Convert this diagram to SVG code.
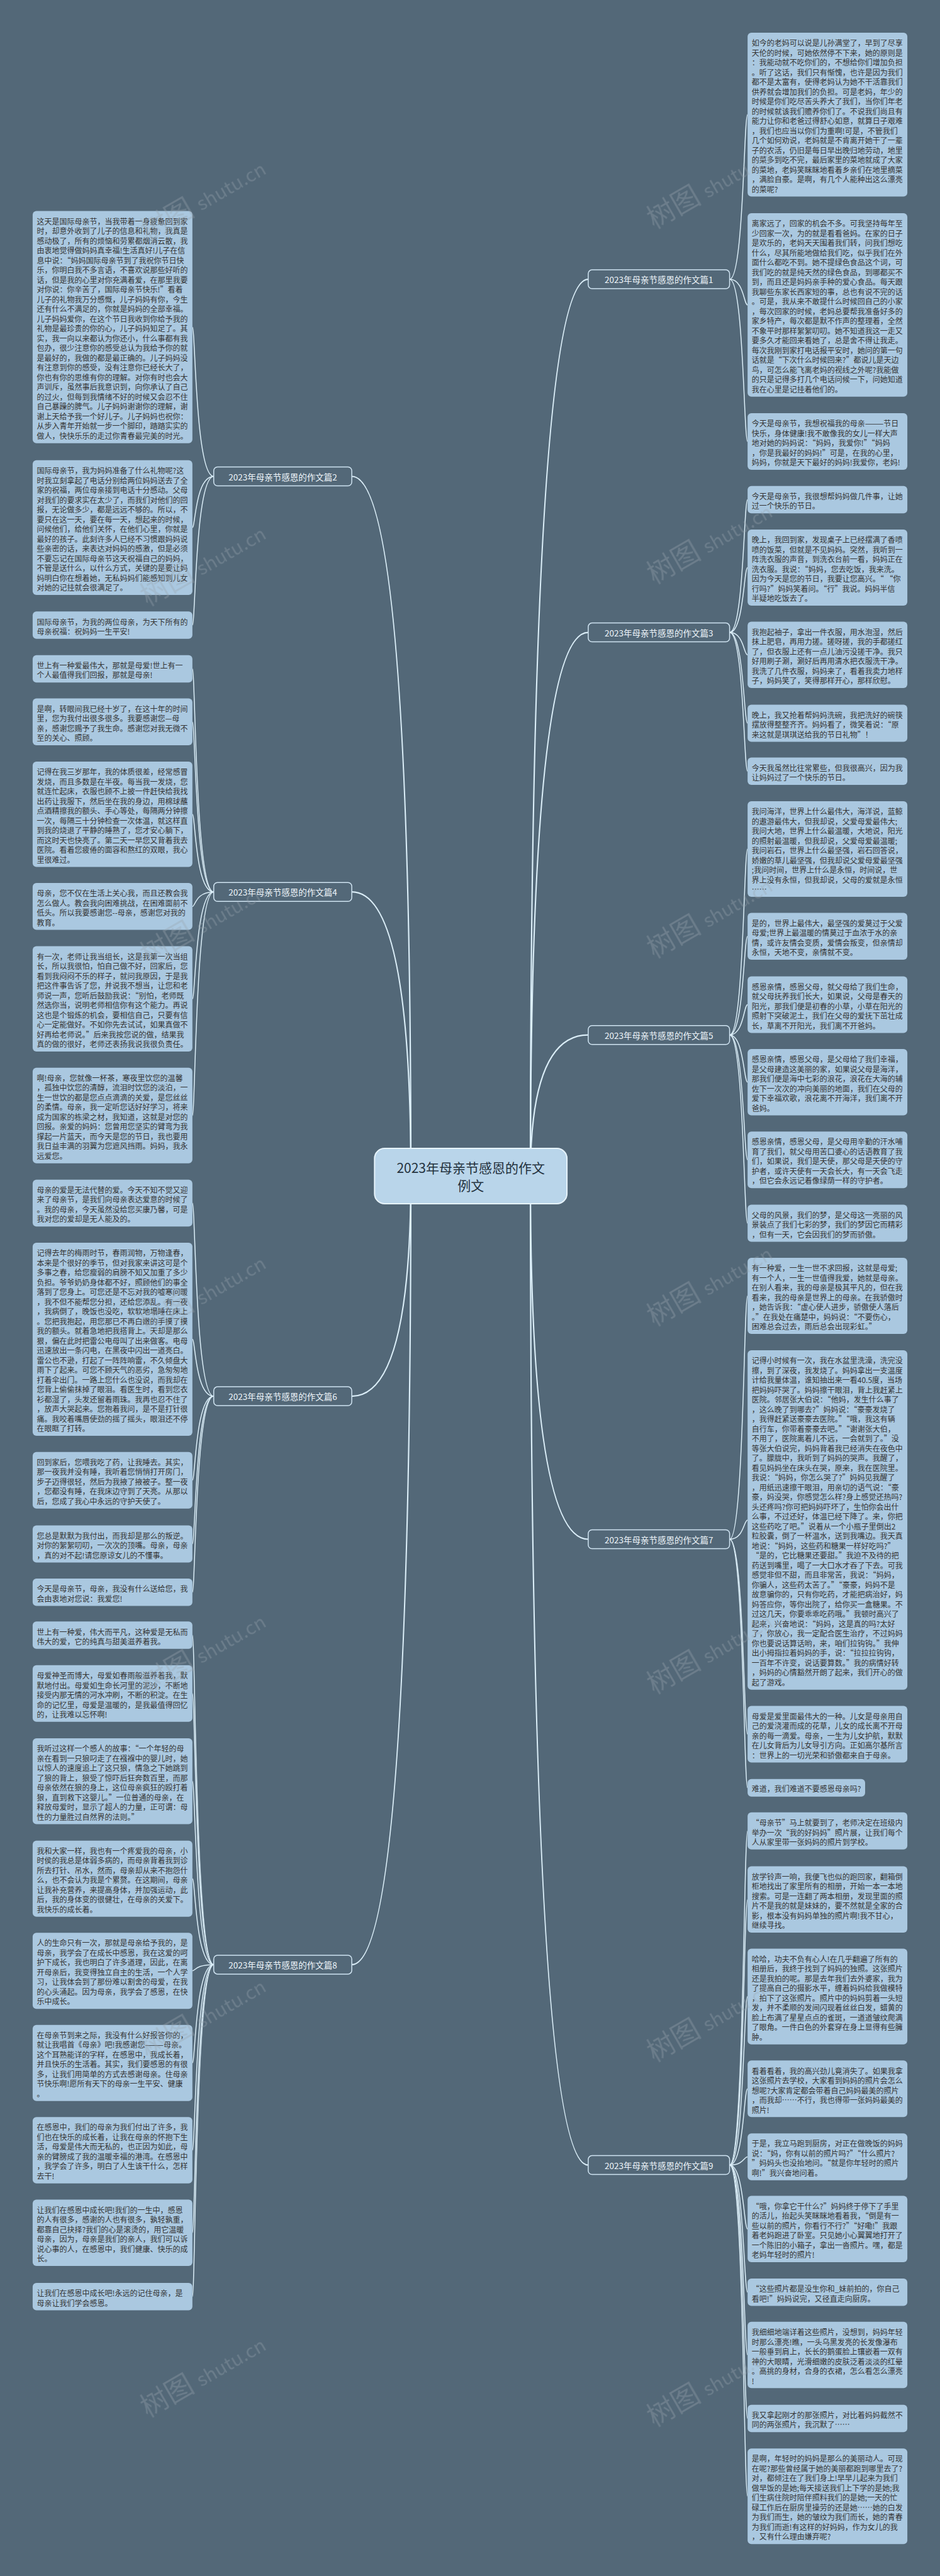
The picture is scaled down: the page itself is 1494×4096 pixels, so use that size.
<svg xmlns="http://www.w3.org/2000/svg" width="1494" height="4096" viewBox="0 0 1494 4096">
<style>
.bg{fill:#536878}
.leaf rect{fill:#aac8e0}
.leaf text{font-family:"Noto Sans CJK SC","Noto Sans",sans-serif;font-size:12px;fill:#333;dominant-baseline:central}
.conn path{fill:none;stroke:#dbeef8;stroke-width:1.5}
.conn path.main{stroke-width:2.2}
.branch rect{fill:#536878;stroke:#d0e4f2;stroke-width:1.5}
.branch text{font-family:"Noto Sans CJK SC","Noto Sans",sans-serif;font-size:13.5px;fill:#eef5fa;text-anchor:middle;dominant-baseline:central}
.root rect{fill:#b9d5ea;stroke:#e6f3fb;stroke-width:2}
.root text{font-family:"Noto Sans CJK SC","Noto Sans",sans-serif;font-size:21px;fill:#24323e;text-anchor:middle;dominant-baseline:central}
.wm{font-family:"Noto Sans CJK SC","Liberation Serif",serif;fill:#9aa6b0;opacity:0.35}
</style>
<rect class="bg" x="0" y="0" width="1494" height="4096"/>
<g id="connectors" class="conn">
<path class="main" d="M653 1870 Q653 757.5 559.1 757.5"/>
<path class="main" d="M653 1870 Q653 1418.2 559.1 1418.2"/>
<path class="main" d="M653 1870 Q653 2220.1 559.1 2220.1"/>
<path class="main" d="M653 1870 Q653 3123.9 559.1 3123.9"/>
<path class="main" d="M843 1870 Q843 444.1 934.9 444.1"/>
<path class="main" d="M843 1870 Q843 1005.6 934.9 1005.6"/>
<path class="main" d="M843 1870 Q843 1645.7 934.9 1645.7"/>
<path class="main" d="M843 1870 Q843 2447.5 934.9 2447.5"/>
<path class="main" d="M843 1870 Q843 3442.6 934.9 3442.6"/>
<path d="M339.7 757.5 C310.5 757.5 310.5 520.2 305.8 520.2"/>
<path d="M339.7 757.5 C310.5 757.5 310.5 838.9 305.8 838.9"/>
<path d="M339.7 757.5 C310.5 757.5 310.5 994.1 305.8 994.1"/>
<path d="M339.7 1418.2 C310.5 1418.2 310.5 1063.5 305.8 1063.5"/>
<path d="M339.7 1418.2 C310.5 1418.2 310.5 1147.9 305.8 1147.9"/>
<path d="M339.7 1418.2 C310.5 1418.2 310.5 1294.8 305.8 1294.8"/>
<path d="M339.7 1418.2 C310.5 1418.2 310.5 1441.4 305.8 1441.4"/>
<path d="M339.7 1418.2 C310.5 1418.2 310.5 1588.3 305.8 1588.3"/>
<path d="M339.7 1418.2 C310.5 1418.2 310.5 1773.7 305.8 1773.7"/>
<path d="M339.7 2220.1 C310.5 2220.1 310.5 1913.0 305.8 1913.0"/>
<path d="M339.7 2220.1 C310.5 2220.1 310.5 2129.6 305.8 2129.6"/>
<path d="M339.7 2220.1 C310.5 2220.1 310.5 2353.7 305.8 2353.7"/>
<path d="M339.7 2220.1 C310.5 2220.1 310.5 2454.9 305.8 2454.9"/>
<path d="M339.7 2220.1 C310.5 2220.1 310.5 2531.8 305.8 2531.8"/>
<path d="M339.7 3123.9 C310.5 3123.9 310.5 2600.1 305.8 2600.1"/>
<path d="M339.7 3123.9 C310.5 3123.9 310.5 2692.8 305.8 2692.8"/>
<path d="M339.7 3123.9 C310.5 3123.9 310.5 2832.2 305.8 2832.2"/>
<path d="M339.7 3123.9 C310.5 3123.9 310.5 2987.2 305.8 2987.2"/>
<path d="M339.7 3123.9 C310.5 3123.9 310.5 3133.7 305.8 3133.7"/>
<path d="M339.7 3123.9 C310.5 3123.9 310.5 3280.2 305.8 3280.2"/>
<path d="M339.7 3123.9 C310.5 3123.9 310.5 3419.0 305.8 3419.0"/>
<path d="M339.7 3123.9 C310.5 3123.9 310.5 3550.3 305.8 3550.3"/>
<path d="M339.7 3123.9 C310.5 3123.9 310.5 3651.8 305.8 3651.8"/>
<path d="M1159.6 444.1 C1182.1 444.1 1182.1 182.2 1188.2 182.2"/>
<path d="M1159.6 444.1 C1182.1 444.1 1182.1 484.9 1188.2 484.9"/>
<path d="M1159.6 444.1 C1182.1 444.1 1182.1 702.1 1188.2 702.1"/>
<path d="M1159.6 1005.6 C1182.1 1005.6 1182.1 794.5 1188.2 794.5"/>
<path d="M1159.6 1005.6 C1182.1 1005.6 1182.1 902.6 1188.2 902.6"/>
<path d="M1159.6 1005.6 C1182.1 1005.6 1182.1 1041.4 1188.2 1041.4"/>
<path d="M1159.6 1005.6 C1182.1 1005.6 1182.1 1150.0 1188.2 1150.0"/>
<path d="M1159.6 1005.6 C1182.1 1005.6 1182.1 1226.3 1188.2 1226.3"/>
<path d="M1159.6 1645.7 C1182.1 1645.7 1182.1 1350.0 1188.2 1350.0"/>
<path d="M1159.6 1645.7 C1182.1 1645.7 1182.1 1488.7 1188.2 1488.7"/>
<path d="M1159.6 1645.7 C1182.1 1645.7 1182.1 1597.4 1188.2 1597.4"/>
<path d="M1159.6 1645.7 C1182.1 1645.7 1182.1 1720.7 1188.2 1720.7"/>
<path d="M1159.6 1645.7 C1182.1 1645.7 1182.1 1844.2 1188.2 1844.2"/>
<path d="M1159.6 1645.7 C1182.1 1645.7 1182.1 1944.9 1188.2 1944.9"/>
<path d="M1159.6 2447.5 C1182.1 2447.5 1182.1 2060.5 1188.2 2060.5"/>
<path d="M1159.6 2447.5 C1182.1 2447.5 1182.1 2416.9 1188.2 2416.9"/>
<path d="M1159.6 2447.5 C1182.1 2447.5 1182.1 2757.5 1188.2 2757.5"/>
<path d="M1159.6 2447.5 C1182.1 2447.5 1182.1 2842.7 1188.2 2842.7"/>
<path d="M1159.6 3442.6 C1182.1 3442.6 1182.1 2911.3 1188.2 2911.3"/>
<path d="M1159.6 3442.6 C1182.1 3442.6 1182.1 3020.4 1188.2 3020.4"/>
<path d="M1159.6 3442.6 C1182.1 3442.6 1182.1 3174.6 1188.2 3174.6"/>
<path d="M1159.6 3442.6 C1182.1 3442.6 1182.1 3321.3 1188.2 3321.3"/>
<path d="M1159.6 3442.6 C1182.1 3442.6 1182.1 3429.5 1188.2 3429.5"/>
<path d="M1159.6 3442.6 C1182.1 3442.6 1182.1 3544.4 1188.2 3544.4"/>
<path d="M1159.6 3442.6 C1182.1 3442.6 1182.1 3644.8 1188.2 3644.8"/>
<path d="M1159.6 3442.6 C1182.1 3442.6 1182.1 3744.6 1188.2 3744.6"/>
<path d="M1159.6 3442.6 C1182.1 3442.6 1182.1 3845.5 1188.2 3845.5"/>
<path d="M1159.6 3442.6 C1182.1 3442.6 1182.1 3969.2 1188.2 3969.2"/>
</g>
<g id="root" class="root"><rect x="595.3" y="1826" width="305.8" height="88" rx="16"/><text x="748.2" y="1856">2023年母亲节感恩的作文</text><text x="748.2" y="1884">例文</text></g>
<g id="b2" class="branch"><rect x="339.7" y="742.5" width="219.4" height="30" rx="6"/><text x="449.4" y="757.5">2023年母亲节感恩的作文篇2</text></g>
<g id="b4" class="branch"><rect x="339.7" y="1403.2" width="219.4" height="30" rx="6"/><text x="449.4" y="1418.2">2023年母亲节感恩的作文篇4</text></g>
<g id="b6" class="branch"><rect x="339.7" y="2205.1" width="219.4" height="30" rx="6"/><text x="449.4" y="2220.1">2023年母亲节感恩的作文篇6</text></g>
<g id="b8" class="branch"><rect x="339.7" y="3108.9" width="219.4" height="30" rx="6"/><text x="449.4" y="3123.9">2023年母亲节感恩的作文篇8</text></g>
<g id="b1" class="branch"><rect x="934.9" y="429.1" width="224.7" height="30" rx="6"/><text x="1047.2" y="444.1">2023年母亲节感恩的作文篇1</text></g>
<g id="b3" class="branch"><rect x="934.9" y="990.6" width="224.7" height="30" rx="6"/><text x="1047.2" y="1005.6">2023年母亲节感恩的作文篇3</text></g>
<g id="b5" class="branch"><rect x="934.9" y="1630.7" width="224.7" height="30" rx="6"/><text x="1047.2" y="1645.7">2023年母亲节感恩的作文篇5</text></g>
<g id="b7" class="branch"><rect x="934.9" y="2432.5" width="224.7" height="30" rx="6"/><text x="1047.2" y="2447.5">2023年母亲节感恩的作文篇7</text></g>
<g id="b9" class="branch"><rect x="934.9" y="3427.6" width="224.7" height="30" rx="6"/><text x="1047.2" y="3442.6">2023年母亲节感恩的作文篇9</text></g>

<g id="L1" class="leaf"><rect x="51.9" y="335.6" width="253.9" height="369.1" rx="6"/><text x="58.5" y="350.8"><tspan x="58.5" dy="0">这天是国际母亲节，当我带着一身疲惫回到家</tspan><tspan x="58.5" dy="15.5">时，却意外收到了儿子的信息和礼物，我真是</tspan><tspan x="58.5" dy="15.5">感动极了，所有的烦恼和劳累都烟消云散，我</tspan><tspan x="58.5" dy="15.5">由衷地觉得做妈妈真幸福!生活真好!儿子在信</tspan><tspan x="58.5" dy="15.5">息中说：“妈妈国际母亲节到了我祝你节日快</tspan><tspan x="58.5" dy="15.5">乐，你明白我不多言语，不喜欢说那些好听的</tspan><tspan x="58.5" dy="15.5">话，但是我的心里对你充满着爱，在那里我要</tspan><tspan x="58.5" dy="15.5">对你说：你辛苦了，国际母亲节快乐!”看着</tspan><tspan x="58.5" dy="15.5">儿子的礼物我万分感慨，儿子妈妈有你，今生</tspan><tspan x="58.5" dy="15.5">还有什么不满足的，你就是妈妈的全部幸福。</tspan><tspan x="58.5" dy="15.5">儿子妈妈爱你，在这个节日我收到你给予我的</tspan><tspan x="58.5" dy="15.5">礼物是最珍贵的你的心，儿子妈妈知足了。其</tspan><tspan x="58.5" dy="15.5">实，我一向以来都认为你还小，什么事都有我</tspan><tspan x="58.5" dy="15.5">包办，很少注意你的感受总认为我给予你的就</tspan><tspan x="58.5" dy="15.5">是最好的，我做的都是最正确的。儿子妈妈没</tspan><tspan x="58.5" dy="15.5">有注意到你的感受，没有注意你已经长大了，</tspan><tspan x="58.5" dy="15.5">你也有你的思维有你的理解。对你有时也会大</tspan><tspan x="58.5" dy="15.5">声训斥，虽然事后我意识到，向你承认了自己</tspan><tspan x="58.5" dy="15.5">的过火，但每到我情绪不好的时候又会忍不住</tspan><tspan x="58.5" dy="15.5">自己暴躁的脾气。儿子妈妈谢谢你的理解，谢</tspan><tspan x="58.5" dy="15.5">谢上天给予我一个好儿子。儿子妈妈也祝你：</tspan><tspan x="58.5" dy="15.5">从步入青年开始就一步一个脚印，踏踏实实的</tspan><tspan x="58.5" dy="15.5">做人，快快乐乐的走过你青春最完美的时光。</tspan></text></g>
<g id="L2" class="leaf"><rect x="51.9" y="731.8" width="253.9" height="214.1" rx="6"/><text x="58.5" y="747.0"><tspan x="58.5" dy="0">国际母亲节，我为妈妈准备了什么礼物呢?这</tspan><tspan x="58.5" dy="15.5">时我立刻拿起了电话分别给两位妈妈送去了全</tspan><tspan x="58.5" dy="15.5">家的祝福，两位母亲接到电话十分感动。父母</tspan><tspan x="58.5" dy="15.5">对我们的要求实在太少了，而我们对他们的回</tspan><tspan x="58.5" dy="15.5">报，无论做多少，都是远远不够的。所以，不</tspan><tspan x="58.5" dy="15.5">要只在这一天，要在每一天，想起来的时候，</tspan><tspan x="58.5" dy="15.5">问候他们，给他们关怀，在他们心里，你就是</tspan><tspan x="58.5" dy="15.5">最好的孩子。此刻许多人已经不习惯跟妈妈说</tspan><tspan x="58.5" dy="15.5">些亲密的话，来表达对妈妈的感激，但是必须</tspan><tspan x="58.5" dy="15.5">不要忘记在国际母亲节这天祝福自己的妈妈，</tspan><tspan x="58.5" dy="15.5">不管是送什么，以什么方式，关键的是要让妈</tspan><tspan x="58.5" dy="15.5">妈明白你在想着她，无私妈妈们能感知到儿女</tspan><tspan x="58.5" dy="15.5">对她的记挂就会很满足了。</tspan></text></g>
<g id="L3" class="leaf"><rect x="51.9" y="972.3" width="253.9" height="43.5" rx="6"/><text x="58.5" y="987.5"><tspan x="58.5" dy="0">国际母亲节，为我的两位母亲，为天下所有的</tspan><tspan x="58.5" dy="15.5">母亲祝福：祝妈妈一生平安!</tspan></text></g>
<g id="L4" class="leaf"><rect x="51.9" y="1041.7" width="253.9" height="43.5" rx="6"/><text x="58.5" y="1056.9"><tspan x="58.5" dy="0">世上有一种爱最伟大，那就是母爱!世上有一</tspan><tspan x="58.5" dy="15.5">个人最值得我们回报，那就是母亲!</tspan></text></g>
<g id="L5" class="leaf"><rect x="51.9" y="1110.6" width="253.9" height="74.5" rx="6"/><text x="58.5" y="1125.8"><tspan x="58.5" dy="0">是啊，转眼间我已经十岁了，在这十年的时间</tspan><tspan x="58.5" dy="15.5">里，您为我付出很多很多。我要感谢您—母</tspan><tspan x="58.5" dy="15.5">亲，感谢您赐予了我生命。感谢您对我无微不</tspan><tspan x="58.5" dy="15.5">至的关心、照顾。</tspan></text></g>
<g id="L6" class="leaf"><rect x="51.9" y="1211.0" width="253.9" height="167.6" rx="6"/><text x="58.5" y="1226.2"><tspan x="58.5" dy="0">记得在我三岁那年，我的体质很差，经常感冒</tspan><tspan x="58.5" dy="15.5">发烧，而且多数是在半夜。每当我一发烧，您</tspan><tspan x="58.5" dy="15.5">就连忙起床，衣服也顾不上披一件赶快给我找</tspan><tspan x="58.5" dy="15.5">出药让我服下，然后坐在我的身边，用棉球蘸</tspan><tspan x="58.5" dy="15.5">点酒精擦我的额头、手心等处，每隔两分钟擦</tspan><tspan x="58.5" dy="15.5">一次，每隔三十分钟检查一次体温，就这样直</tspan><tspan x="58.5" dy="15.5">到我的烧退了平静的睡熟了，您才安心躺下，</tspan><tspan x="58.5" dy="15.5">而这时天也快亮了。第二天一早您又背着我去</tspan><tspan x="58.5" dy="15.5">医院。看着您疲倦的面容和熬红的双眼，我心</tspan><tspan x="58.5" dy="15.5">里很难过。</tspan></text></g>
<g id="L7" class="leaf"><rect x="51.9" y="1404.1" width="253.9" height="74.5" rx="6"/><text x="58.5" y="1419.3"><tspan x="58.5" dy="0">母亲，您不仅在生活上关心我，而且还教会我</tspan><tspan x="58.5" dy="15.5">怎么做人。教会我向困难挑战，在困难面前不</tspan><tspan x="58.5" dy="15.5">低头。所以我要感谢您--母亲，感谢您对我的</tspan><tspan x="58.5" dy="15.5">教育。</tspan></text></g>
<g id="L8" class="leaf"><rect x="51.9" y="1504.5" width="253.9" height="167.6" rx="6"/><text x="58.5" y="1519.7"><tspan x="58.5" dy="0">有一次，老师让我当组长，这是我第一次当组</tspan><tspan x="58.5" dy="15.5">长，所以我很怕，怕自己做不好，回家后，您</tspan><tspan x="58.5" dy="15.5">看到我闷闷不乐的样子，就问我原因，于是我</tspan><tspan x="58.5" dy="15.5">把这件事告诉了您，并说我不想当，让您和老</tspan><tspan x="58.5" dy="15.5">师说一声，您听后鼓励我说：“别怕，老师既</tspan><tspan x="58.5" dy="15.5">然选你当，说明老师相信你有这个能力。再说</tspan><tspan x="58.5" dy="15.5">这也是个锻炼的机会，要相信自己，只要有信</tspan><tspan x="58.5" dy="15.5">心一定能做好。不如你先去试试，如果真做不</tspan><tspan x="58.5" dy="15.5">好再给老师说。”后来我按您说的做，结果我</tspan><tspan x="58.5" dy="15.5">真的做的很好，老师还表扬我说我很负责任。</tspan></text></g>
<g id="L9" class="leaf"><rect x="51.9" y="1697.7" width="253.9" height="152.1" rx="6"/><text x="58.5" y="1712.9"><tspan x="58.5" dy="0">啊!母亲，您就像一杯茶，寒夜里饮您的温馨</tspan><tspan x="58.5" dy="15.5">，孤独中饮您的清醇，流泪时饮您的淡泊，一</tspan><tspan x="58.5" dy="15.5">生一世饮的都是您点点滴滴的关爱，是您丝丝</tspan><tspan x="58.5" dy="15.5">的柔情。母亲，我一定听您话好好学习，将来</tspan><tspan x="58.5" dy="15.5">成为国家的栋梁之材，我知道，这就是对您的</tspan><tspan x="58.5" dy="15.5">回报。亲爱的妈妈：您曾用您坚实的臂弯为我</tspan><tspan x="58.5" dy="15.5">撑起一片蓝天，而今天是您的节日，我也要用</tspan><tspan x="58.5" dy="15.5">我日益丰满的羽翼为您遮风挡雨。妈妈，我永</tspan><tspan x="58.5" dy="15.5">远爱您。</tspan></text></g>
<g id="L10" class="leaf"><rect x="51.9" y="1875.7" width="253.9" height="74.5" rx="6"/><text x="58.5" y="1890.9"><tspan x="58.5" dy="0">母亲的爱是无法代替的爱。今天不知不觉又迎</tspan><tspan x="58.5" dy="15.5">来了母亲节，是我们向母亲表达爱意的时候了</tspan><tspan x="58.5" dy="15.5">。我的母亲，今天虽然没给您买康乃馨，可是</tspan><tspan x="58.5" dy="15.5">我对您的爱却是无人能及的。</tspan></text></g>
<g id="L11" class="leaf"><rect x="51.9" y="1976.0" width="253.9" height="307.1" rx="6"/><text x="58.5" y="1991.2"><tspan x="58.5" dy="0">记得去年的梅雨时节，春雨润物，万物逢春，</tspan><tspan x="58.5" dy="15.5">本来是个很好的季节，但对我家来讲这可是个</tspan><tspan x="58.5" dy="15.5">多事之春，给您瘦弱的肩膀不知又加重了多少</tspan><tspan x="58.5" dy="15.5">负担。爷爷奶奶身体都不好，照顾他们的事全</tspan><tspan x="58.5" dy="15.5">落到了您身上。可您还是不忘对我的嘘寒问暖</tspan><tspan x="58.5" dy="15.5">，我不但不能帮您分担，还给您添乱。有一夜</tspan><tspan x="58.5" dy="15.5">，我病倒了，晚饭也没吃，软软地塌睡在床上</tspan><tspan x="58.5" dy="15.5">。您把我抱起，用您那已不再白嫩的手摸了摸</tspan><tspan x="58.5" dy="15.5">我的额头。就着急地把我搭背上。天却是那么</tspan><tspan x="58.5" dy="15.5">狠，偏在此时把雷公电母叫了出来做客。电母</tspan><tspan x="58.5" dy="15.5">迅速放出一条闪电，在黑夜中闪出一道亮白。</tspan><tspan x="58.5" dy="15.5">雷公也不逊，打起了一阵阵响雷，不久倾盘大</tspan><tspan x="58.5" dy="15.5">雨下了起来。可您不顾天气的恶劣，急匆匆地</tspan><tspan x="58.5" dy="15.5">打着伞出门。一路上您什么也没说，而我却在</tspan><tspan x="58.5" dy="15.5">您背上偷偷抹掉了眼泪。看医生时，看到您衣</tspan><tspan x="58.5" dy="15.5">衫都湿了，头发还留着雨珠。我再也忍不住了</tspan><tspan x="58.5" dy="15.5">，放声大哭起来。您抱着我问，是不是打针很</tspan><tspan x="58.5" dy="15.5">痛。我咬着嘴唇使劲的摇了摇头，眼泪还不停</tspan><tspan x="58.5" dy="15.5">在眼眶了打转。</tspan></text></g>
<g id="L12" class="leaf"><rect x="51.9" y="2308.7" width="253.9" height="90.0" rx="6"/><text x="58.5" y="2323.9"><tspan x="58.5" dy="0">回到家后，您喂我吃了药，让我睡去。其实，</tspan><tspan x="58.5" dy="15.5">那一夜我并没有睡，我听着您悄悄打开房门，</tspan><tspan x="58.5" dy="15.5">步子迈得很轻，然后为我掖了掖被子。整一夜</tspan><tspan x="58.5" dy="15.5">，您都没有睡，在我床边守到了天亮。从那以</tspan><tspan x="58.5" dy="15.5">后，您成了我心中永远的守护天使了。</tspan></text></g>
<g id="L13" class="leaf"><rect x="51.9" y="2425.4" width="253.9" height="59.0" rx="6"/><text x="58.5" y="2440.6"><tspan x="58.5" dy="0">您总是默默为我付出，而我却是那么的叛逆。</tspan><tspan x="58.5" dy="15.5">对你的絮絮叨叨，一次次的顶嘴。母亲，母亲</tspan><tspan x="58.5" dy="15.5">，真的对不起!请您原谅女儿的不懂事。</tspan></text></g>
<g id="L14" class="leaf"><rect x="51.9" y="2510.0" width="253.9" height="43.5" rx="6"/><text x="58.5" y="2525.2"><tspan x="58.5" dy="0">今天是母亲节，母亲，我没有什么送给您，我</tspan><tspan x="58.5" dy="15.5">会由衷地对您说：我爱您!</tspan></text></g>
<g id="L15" class="leaf"><rect x="51.9" y="2578.3" width="253.9" height="43.5" rx="6"/><text x="58.5" y="2593.5"><tspan x="58.5" dy="0">世上有一种爱，伟大而平凡，这种爱是无私而</tspan><tspan x="58.5" dy="15.5">伟大的爱，它的纯真与甜美滋养着我。</tspan></text></g>
<g id="L16" class="leaf"><rect x="51.9" y="2647.8" width="253.9" height="90.0" rx="6"/><text x="58.5" y="2663.0"><tspan x="58.5" dy="0">母爱神圣而博大，母爱如春雨般滋养着我，默</tspan><tspan x="58.5" dy="15.5">默地付出。母爱如生命长河里的泥沙，不断地</tspan><tspan x="58.5" dy="15.5">接受内那无情的河水冲刷，不断的积淀。在生</tspan><tspan x="58.5" dy="15.5">命的记忆里，母爱是温暖的，是我最值得回忆</tspan><tspan x="58.5" dy="15.5">的，让我难以忘怀啊!</tspan></text></g>
<g id="L17" class="leaf"><rect x="51.9" y="2763.9" width="253.9" height="136.5" rx="6"/><text x="58.5" y="2779.1"><tspan x="58.5" dy="0">我听过这样一个感人的故事：“一个年轻的母</tspan><tspan x="58.5" dy="15.5">亲在看到一只狼叼走了在襁褓中的婴儿时，她</tspan><tspan x="58.5" dy="15.5">以惊人的速度追上了这只狼，情急之下她跳到</tspan><tspan x="58.5" dy="15.5">了狼的背上，狼受了惊吓后狂奔数百里，而那</tspan><tspan x="58.5" dy="15.5">母亲依然在狼的身上，这位母亲疯狂的殴打着</tspan><tspan x="58.5" dy="15.5">狼，直到救下这婴儿。”一位普通的母亲，在</tspan><tspan x="58.5" dy="15.5">释放母爱时，显示了超人的力量，正可谓：母</tspan><tspan x="58.5" dy="15.5">性的力量胜过自然界的法则。”</tspan></text></g>
<g id="L18" class="leaf"><rect x="51.9" y="2926.7" width="253.9" height="121.0" rx="6"/><text x="58.5" y="2941.9"><tspan x="58.5" dy="0">我和大家一样，我也有一个疼爱我的母亲，小</tspan><tspan x="58.5" dy="15.5">时侯的我总是体弱多病的，而母亲背着我到诊</tspan><tspan x="58.5" dy="15.5">所去打针、吊水，然而，母亲却从来不抱怨什</tspan><tspan x="58.5" dy="15.5">么，也不会认为我是个累赘。在这期间，母亲</tspan><tspan x="58.5" dy="15.5">让我补充营养，来提高身体，并加强运动，此</tspan><tspan x="58.5" dy="15.5">后，我的身体变的很健壮，在母亲的关爱下。</tspan><tspan x="58.5" dy="15.5">我快乐的成长着。</tspan></text></g>
<g id="L19" class="leaf"><rect x="51.9" y="3073.2" width="253.9" height="121.0" rx="6"/><text x="58.5" y="3088.4"><tspan x="58.5" dy="0">人的生命只有一次，那就是母亲给予我的，是</tspan><tspan x="58.5" dy="15.5">母亲，我学会了在成长中感恩，我在这爱的呵</tspan><tspan x="58.5" dy="15.5">护下成长，我也明白了许多道理，因此，在离</tspan><tspan x="58.5" dy="15.5">开母亲后，我变得独立自主的生活，一个人学</tspan><tspan x="58.5" dy="15.5">习，让我体会到了那份难以割舍的母爱，在我</tspan><tspan x="58.5" dy="15.5">的心头涌起。因为母亲，我学会了感恩，在快</tspan><tspan x="58.5" dy="15.5">乐中成长。</tspan></text></g>
<g id="L20" class="leaf"><rect x="51.9" y="3219.7" width="253.9" height="121.0" rx="6"/><text x="58.5" y="3234.9"><tspan x="58.5" dy="0">在母亲节到来之际，我没有什么好报答你的，</tspan><tspan x="58.5" dy="15.5">就让我唱首《母亲》吧!我感谢您———母亲。</tspan><tspan x="58.5" dy="15.5">这个耳熟能详的字样，在感恩中，我成长着，</tspan><tspan x="58.5" dy="15.5">并且快乐的生活着。其实，我们要感恩的有很</tspan><tspan x="58.5" dy="15.5">多，让我们用简单的方式去感谢母亲。住母亲</tspan><tspan x="58.5" dy="15.5">节快乐啊!愿所有天下的母亲一生平安、健康</tspan><tspan x="58.5" dy="15.5">。</tspan></text></g>
<g id="L21" class="leaf"><rect x="51.9" y="3366.2" width="253.9" height="105.5" rx="6"/><text x="58.5" y="3381.4"><tspan x="58.5" dy="0">在感恩中，我们的母亲为我们付出了许多，我</tspan><tspan x="58.5" dy="15.5">们也在快乐的成长着，让我在母亲的怀抱下生</tspan><tspan x="58.5" dy="15.5">活，母爱是伟大而无私的，也正因为如此，母</tspan><tspan x="58.5" dy="15.5">亲的臂膀成了我的温暖幸福的港湾。在感恩中</tspan><tspan x="58.5" dy="15.5">，我学会了许多，明白了人生该干什么，怎样</tspan><tspan x="58.5" dy="15.5">去干!</tspan></text></g>
<g id="L22" class="leaf"><rect x="51.9" y="3497.5" width="253.9" height="105.5" rx="6"/><text x="58.5" y="3512.7"><tspan x="58.5" dy="0">让我们在感恩中成长吧!我们的一生中，感恩</tspan><tspan x="58.5" dy="15.5">的人有很多，感谢的人也有很多，孰轻孰重，</tspan><tspan x="58.5" dy="15.5">都靠自己抉择?我们的心是滚烫的，用它温暖</tspan><tspan x="58.5" dy="15.5">母亲，因为，母亲是我们的亲人，我们可以诉</tspan><tspan x="58.5" dy="15.5">说心事的人，在感恩中，我们健康、快乐的成</tspan><tspan x="58.5" dy="15.5">长。</tspan></text></g>
<g id="L23" class="leaf"><rect x="51.9" y="3630.0" width="253.9" height="43.5" rx="6"/><text x="58.5" y="3645.2"><tspan x="58.5" dy="0">让我们在感恩中成长吧!永远的记住母亲，是</tspan><tspan x="58.5" dy="15.5">母亲让我们学会感恩。</tspan></text></g>

<g id="R1" class="leaf"><rect x="1188.2" y="51.9" width="253.9" height="260.6" rx="6"/><text x="1194.8" y="67.1"><tspan x="1194.8" dy="0">如今的老妈可以说是儿孙满堂了，早到了尽享</tspan><tspan x="1194.8" dy="15.5">天伦的时候，可她依然停不下来，她的原则是</tspan><tspan x="1194.8" dy="15.5">：我能动就不吃你们的，不想给你们增加负担</tspan><tspan x="1194.8" dy="15.5">。听了这话，我们只有惭愧，也许是因为我们</tspan><tspan x="1194.8" dy="15.5">都不是太富有，使得老妈认为她不干活靠我们</tspan><tspan x="1194.8" dy="15.5">供养就会增加我们的负担。可是老妈，年少的</tspan><tspan x="1194.8" dy="15.5">时候是你们吃尽苦头养大了我们，当你们年老</tspan><tspan x="1194.8" dy="15.5">的时候就该我们赡养你们了。不说我们尚且有</tspan><tspan x="1194.8" dy="15.5">能力让你和老爸过得舒心如意，就算日子艰难</tspan><tspan x="1194.8" dy="15.5">，我们也应当以你们为重啊!可是，不管我们</tspan><tspan x="1194.8" dy="15.5">几个如何劝说，老妈就是不肯离开她干了一辈</tspan><tspan x="1194.8" dy="15.5">子的农活，仍旧是每日早出晚归地劳动，地里</tspan><tspan x="1194.8" dy="15.5">的菜多到吃不完，最后家里的菜地就成了大家</tspan><tspan x="1194.8" dy="15.5">的菜地，老妈笑眯眯地看着乡亲们在地里摘菜</tspan><tspan x="1194.8" dy="15.5">，满脸自豪。是啊，有几个人能种出这么漂亮</tspan><tspan x="1194.8" dy="15.5">的菜呢?</tspan></text></g>
<g id="R2" class="leaf"><rect x="1188.2" y="339.1" width="253.9" height="291.6" rx="6"/><text x="1194.8" y="354.3"><tspan x="1194.8" dy="0">离家远了，回家的机会不多。可我坚持每年至</tspan><tspan x="1194.8" dy="15.5">少回家一次，为的就是看看爸妈。在家的日子</tspan><tspan x="1194.8" dy="15.5">是欢乐的，老妈天天围着我们转，问我们想吃</tspan><tspan x="1194.8" dy="15.5">什么，尽其所能地做给我们吃，似乎我们在外</tspan><tspan x="1194.8" dy="15.5">面什么都吃不到。她不提绿色食品这个词，可</tspan><tspan x="1194.8" dy="15.5">我们吃的就是纯天然的绿色食品，到哪都买不</tspan><tspan x="1194.8" dy="15.5">到，而且还是妈妈亲手种的爱心食品。每天跟</tspan><tspan x="1194.8" dy="15.5">我聊些东家长西家短的事，总也有说不完的话</tspan><tspan x="1194.8" dy="15.5">。可是，我从来不敢提什么时候回自己的小家</tspan><tspan x="1194.8" dy="15.5">，每次回家的时候，老妈总要帮我准备好多的</tspan><tspan x="1194.8" dy="15.5">家乡特产，每次都是默不作声的整理着，全然</tspan><tspan x="1194.8" dy="15.5">不象平时那样絮絮叨叨。她不知道我这一走又</tspan><tspan x="1194.8" dy="15.5">要多久才能回来看她了，总是舍不得让我走。</tspan><tspan x="1194.8" dy="15.5">每次我刚到家打电话报平安时，她问的第一句</tspan><tspan x="1194.8" dy="15.5">话就是“下次什么时候回来?”都说儿是天边</tspan><tspan x="1194.8" dy="15.5">鸟，可怎么能飞离老妈的视线之外呢?我能做</tspan><tspan x="1194.8" dy="15.5">的只是记得多打几个电话问候一下，问她知道</tspan><tspan x="1194.8" dy="15.5">我在心里是记挂着他们的。</tspan></text></g>
<g id="R3" class="leaf"><rect x="1188.2" y="657.1" width="253.9" height="90.0" rx="6"/><text x="1194.8" y="672.3"><tspan x="1194.8" dy="0">今天是母亲节，我想祝福我的母亲———节日</tspan><tspan x="1194.8" dy="15.5">快乐，身体健康!我不敢像我的女儿一样大声</tspan><tspan x="1194.8" dy="15.5">地对她的妈妈说：“妈妈，我爱你!”“妈妈</tspan><tspan x="1194.8" dy="15.5">，你是我最好的妈妈!”可是，在我的心里，</tspan><tspan x="1194.8" dy="15.5">妈妈，你就是天下最好的妈妈!我爱你，老妈!</tspan></text></g>
<g id="R4" class="leaf"><rect x="1188.2" y="772.7" width="253.9" height="43.5" rx="6"/><text x="1194.8" y="787.9"><tspan x="1194.8" dy="0">今天是母亲节，我很想帮妈妈做几件事，让她</tspan><tspan x="1194.8" dy="15.5">过一个快乐的节日。</tspan></text></g>
<g id="R5" class="leaf"><rect x="1188.2" y="842.1" width="253.9" height="121.0" rx="6"/><text x="1194.8" y="857.3"><tspan x="1194.8" dy="0">晚上，我回到家，发现桌子上已经摆满了香喷</tspan><tspan x="1194.8" dy="15.5">喷的饭菜，但就是不见妈妈。突然，我听到一</tspan><tspan x="1194.8" dy="15.5">阵洗衣服的声音，到洗衣台前一看，妈妈正在</tspan><tspan x="1194.8" dy="15.5">洗衣服。我说：“妈妈，您去吃饭，我来洗。</tspan><tspan x="1194.8" dy="15.5">因为今天是您的节日，我要让您高兴。“ “你</tspan><tspan x="1194.8" dy="15.5">行吗?”妈妈笑着问。“行”我说。妈妈半信</tspan><tspan x="1194.8" dy="15.5">半疑地吃饭去了。</tspan></text></g>
<g id="R6" class="leaf"><rect x="1188.2" y="988.6" width="253.9" height="105.5" rx="6"/><text x="1194.8" y="1003.8"><tspan x="1194.8" dy="0">我抱起袖子，拿出一件衣服，用水泡湿，然后</tspan><tspan x="1194.8" dy="15.5">抹上肥皂，再用力搓。搓呀搓，我的手都搓红</tspan><tspan x="1194.8" dy="15.5">了，但衣服上还有一点儿油污没搓干净。我只</tspan><tspan x="1194.8" dy="15.5">好用刷子涮，涮好后再用清水把衣服洗干净。</tspan><tspan x="1194.8" dy="15.5">我洗了几件衣服，妈妈来了，看着我卖力地样</tspan><tspan x="1194.8" dy="15.5">子，妈妈笑了，笑得那样开心，那样欣慰。</tspan></text></g>
<g id="R7" class="leaf"><rect x="1188.2" y="1120.5" width="253.9" height="59.0" rx="6"/><text x="1194.8" y="1135.7"><tspan x="1194.8" dy="0">晚上，我又抢着帮妈妈洗碗，我把洗好的碗筷</tspan><tspan x="1194.8" dy="15.5">摆放得整整齐齐。妈妈看了，微笑着说：“原</tspan><tspan x="1194.8" dy="15.5">来这就是琪琪送给我的节日礼物”！</tspan></text></g>
<g id="R8" class="leaf"><rect x="1188.2" y="1204.5" width="253.9" height="43.5" rx="6"/><text x="1194.8" y="1219.7"><tspan x="1194.8" dy="0">今天我虽然比往常累些，但我很高兴，因为我</tspan><tspan x="1194.8" dy="15.5">让妈妈过了一个快乐的节日。</tspan></text></g>
<g id="R9" class="leaf"><rect x="1188.2" y="1274.0" width="253.9" height="152.1" rx="6"/><text x="1194.8" y="1289.2"><tspan x="1194.8" dy="0">我问海洋，世界上什么最伟大，海洋说，蓝鲸</tspan><tspan x="1194.8" dy="15.5">的遨游最伟大，但我却说，父爱母爱最伟大;</tspan><tspan x="1194.8" dy="15.5">我问大地，世界上什么最温暖，大地说，阳光</tspan><tspan x="1194.8" dy="15.5">的照射最温暖，但我却说，父爱母爱最温暖;</tspan><tspan x="1194.8" dy="15.5">我问岩石，世界上什么最坚强，岩石回答说，</tspan><tspan x="1194.8" dy="15.5">娇嫩的草儿最坚强，但我却说父爱母爱最坚强</tspan><tspan x="1194.8" dy="15.5">;我问时间，世界上什么是永恒，时间说，世</tspan><tspan x="1194.8" dy="15.5">界上没有永恒，但我却说，父母的爱就是永恒</tspan><tspan x="1194.8" dy="15.5">……</tspan></text></g>
<g id="R10" class="leaf"><rect x="1188.2" y="1451.4" width="253.9" height="74.5" rx="6"/><text x="1194.8" y="1466.6"><tspan x="1194.8" dy="0">是的，世界上最伟大，最坚强的爱莫过于父爱</tspan><tspan x="1194.8" dy="15.5">母爱;世界上最温暖的情莫过于血浓于水的亲</tspan><tspan x="1194.8" dy="15.5">情，或许友情会变质，爱情会叛变，但亲情却</tspan><tspan x="1194.8" dy="15.5">永恒，天地不变，亲情就不变。</tspan></text></g>
<g id="R11" class="leaf"><rect x="1188.2" y="1552.4" width="253.9" height="90.0" rx="6"/><text x="1194.8" y="1567.6"><tspan x="1194.8" dy="0">感恩亲情，感恩父母，就父母给了我们生命，</tspan><tspan x="1194.8" dy="15.5">就父母抚养我们长大，如果说，父母是春天的</tspan><tspan x="1194.8" dy="15.5">阳光，那我们便是初春的小草，小草在阳光的</tspan><tspan x="1194.8" dy="15.5">照射下突破泥土，我们在父母的爱抚下茁壮成</tspan><tspan x="1194.8" dy="15.5">长，草离不开阳光，我们离不开爸妈。</tspan></text></g>
<g id="R12" class="leaf"><rect x="1188.2" y="1667.9" width="253.9" height="105.5" rx="6"/><text x="1194.8" y="1683.1"><tspan x="1194.8" dy="0">感恩亲情，感恩父母，是父母给了我们幸福，</tspan><tspan x="1194.8" dy="15.5">是父母建造这美丽的家，如果说父母是海洋，</tspan><tspan x="1194.8" dy="15.5">那我们便是海中七彩的浪花，浪花在大海的辅</tspan><tspan x="1194.8" dy="15.5">佐下一次次的冲向美丽的地面，我们在父母的</tspan><tspan x="1194.8" dy="15.5">爱下幸福欢歌，浪花离不开海洋，我们离不开</tspan><tspan x="1194.8" dy="15.5">爸妈。</tspan></text></g>
<g id="R13" class="leaf"><rect x="1188.2" y="1799.2" width="253.9" height="90.0" rx="6"/><text x="1194.8" y="1814.4"><tspan x="1194.8" dy="0">感恩亲情，感恩父母，是父母用辛勤的汗水哺</tspan><tspan x="1194.8" dy="15.5">育了我们，就父母用苦口婆心的话语教育了我</tspan><tspan x="1194.8" dy="15.5">们，如果说，我们是天使，那父母是天使的守</tspan><tspan x="1194.8" dy="15.5">护者，或许天使有一天会长大，有一天会飞走</tspan><tspan x="1194.8" dy="15.5">，但它会永远记着像绿荫一样的守护者。</tspan></text></g>
<g id="R14" class="leaf"><rect x="1188.2" y="1915.4" width="253.9" height="59.0" rx="6"/><text x="1194.8" y="1930.6"><tspan x="1194.8" dy="0">父母的风景，我们的梦，是父母这一亮丽的风</tspan><tspan x="1194.8" dy="15.5">景装点了我们七彩的梦，我们的梦因它而精彩</tspan><tspan x="1194.8" dy="15.5">，但有一天，它会因我们的梦而骄傲。</tspan></text></g>
<g id="R15" class="leaf"><rect x="1188.2" y="2000.0" width="253.9" height="121.0" rx="6"/><text x="1194.8" y="2015.2"><tspan x="1194.8" dy="0">有一种爱，一生一世不求回报，这就是母爱;</tspan><tspan x="1194.8" dy="15.5">有一个人，一生一世值得我爱，她就是母亲。</tspan><tspan x="1194.8" dy="15.5">在别人看来，我的母亲是极其平凡的，但在我</tspan><tspan x="1194.8" dy="15.5">看来，我的母亲是世界上的母亲。在我骄傲时</tspan><tspan x="1194.8" dy="15.5">，她告诉我：“虚心使人进步，骄傲使人落后</tspan><tspan x="1194.8" dy="15.5">。”在我处在痛楚中，妈妈说：“不要伤心，</tspan><tspan x="1194.8" dy="15.5">困难总会过去，雨后总会出现彩虹。”</tspan></text></g>
<g id="R16" class="leaf"><rect x="1188.2" y="2147.0" width="253.9" height="539.7" rx="6"/><text x="1194.8" y="2162.2"><tspan x="1194.8" dy="0">记得小时候有一次，我在水盆里洗澡，洗完没</tspan><tspan x="1194.8" dy="15.5">擦，到了深夜，我发烧了。妈妈拿出一支温度</tspan><tspan x="1194.8" dy="15.5">计给我量体温，谁知抽出来一看40.5度，当场</tspan><tspan x="1194.8" dy="15.5">把妈妈吓哭了。妈妈擦干眼泪，背上我赶紧上</tspan><tspan x="1194.8" dy="15.5">医院。邻居张大伯说：“他妈，发生什么事了</tspan><tspan x="1194.8" dy="15.5">，这么晚了到哪去?”妈妈说：“豪豪发烧了</tspan><tspan x="1194.8" dy="15.5">，我得赶紧送豪豪去医院。”“哦，我这有辆</tspan><tspan x="1194.8" dy="15.5">自行车，你带着豪豪去吧。”“谢谢张大伯，</tspan><tspan x="1194.8" dy="15.5">不用了，医院离着儿不远，一会就到了。”没</tspan><tspan x="1194.8" dy="15.5">等张大伯说完，妈妈背着我已经消失在夜色中</tspan><tspan x="1194.8" dy="15.5">了。朦胧中，我听到了妈妈的哭声。我醒了，</tspan><tspan x="1194.8" dy="15.5">看见妈妈坐在床头在哭，原来，我在医院里。</tspan><tspan x="1194.8" dy="15.5">我说：“妈妈，你怎么哭了?”妈妈见我醒了</tspan><tspan x="1194.8" dy="15.5">，用纸迅速擦干眼泪，用亲切的语气说：“豪</tspan><tspan x="1194.8" dy="15.5">豪，妈没哭，你感觉怎么样?身上感觉还热吗?</tspan><tspan x="1194.8" dy="15.5">头还疼吗?你可把妈妈吓坏了，生怕你会出什</tspan><tspan x="1194.8" dy="15.5">么事，不过还好，体温已经下降了。来，你把</tspan><tspan x="1194.8" dy="15.5">这些药吃了吧。”说着从一个小瓶子里倒出2</tspan><tspan x="1194.8" dy="15.5">粒胶囊，倒了一杯温水，送到我嘴边。我天真</tspan><tspan x="1194.8" dy="15.5">地说：“妈妈，这些药和糖果一样好吃吗?”</tspan><tspan x="1194.8" dy="15.5">“是的，它比糖果还要甜。”我迫不及待的把</tspan><tspan x="1194.8" dy="15.5">药送到嘴里，喝了一大口水才吞了下去。可我</tspan><tspan x="1194.8" dy="15.5">感觉非但不甜，而且非常苦，我说：“妈妈，</tspan><tspan x="1194.8" dy="15.5">你骗人，这些药太苦了。”“豪豪，妈妈不是</tspan><tspan x="1194.8" dy="15.5">故意骗你的，只有你吃药，才能把病治好，妈</tspan><tspan x="1194.8" dy="15.5">妈答应你，等你出院了，给你买一盒糖果。不</tspan><tspan x="1194.8" dy="15.5">过这几天，你要乖乖吃药哦。”我顿时高兴了</tspan><tspan x="1194.8" dy="15.5">起来，兴奋地说：“妈妈，这是真的吗?太好</tspan><tspan x="1194.8" dy="15.5">了，你放心，我一定配合医生治疗，不过妈妈</tspan><tspan x="1194.8" dy="15.5">你也要说话算话哟，来，咱们拉钩钩。”我伸</tspan><tspan x="1194.8" dy="15.5">出小拇指拉着妈妈的手，说：“拉拉拉钩钩，</tspan><tspan x="1194.8" dy="15.5">一百年不许变，说话要算数。”我的病情好转</tspan><tspan x="1194.8" dy="15.5">，妈妈的心情豁然开朗了起来，我们开心的做</tspan><tspan x="1194.8" dy="15.5">起了游戏。</tspan></text></g>
<g id="R17" class="leaf"><rect x="1188.2" y="2712.5" width="253.9" height="90.0" rx="6"/><text x="1194.8" y="2727.7"><tspan x="1194.8" dy="0">母爱是爱里面最伟大的一种。儿女是母亲用自</tspan><tspan x="1194.8" dy="15.5">己的爱浇灌而成的花草，儿女的成长离不开母</tspan><tspan x="1194.8" dy="15.5">亲的每一滴爱。母亲，一生为儿女护航，默默</tspan><tspan x="1194.8" dy="15.5">在儿女背后为儿女导引方向。正如高尔基所言</tspan><tspan x="1194.8" dy="15.5">：世界上的一切光荣和骄傲都来自于母亲。</tspan></text></g>
<g id="R18" class="leaf"><rect x="1188.2" y="2828.7" width="186.8" height="28.0" rx="6"/><text x="1194.8" y="2842.7"><tspan x="1194.8" dy="0">难道，我们难道不要感恩母亲吗?</tspan></text></g>
<g id="R19" class="leaf"><rect x="1188.2" y="2881.8" width="253.9" height="59.0" rx="6"/><text x="1194.8" y="2897.0"><tspan x="1194.8" dy="0">“母亲节”马上就要到了，老师决定在班级内</tspan><tspan x="1194.8" dy="15.5">举办一次“我的好妈妈”照片展，让我们每个</tspan><tspan x="1194.8" dy="15.5">人从家里带一张妈妈的照片到学校。</tspan></text></g>
<g id="R20" class="leaf"><rect x="1188.2" y="2967.6" width="253.9" height="105.5" rx="6"/><text x="1194.8" y="2982.8"><tspan x="1194.8" dy="0">放学铃声一响，我便飞也似的跑回家，翻箱倒</tspan><tspan x="1194.8" dy="15.5">柜地找出了家里所有的相册，开始一本一本地</tspan><tspan x="1194.8" dy="15.5">搜索。可是一连翻了两本相册，发现里面的照</tspan><tspan x="1194.8" dy="15.5">片不是我的就是妹妹的，要不然就是全家的合</tspan><tspan x="1194.8" dy="15.5">影，根本没有妈妈单独的照片啊!我不甘心，</tspan><tspan x="1194.8" dy="15.5">继续寻找。</tspan></text></g>
<g id="R21" class="leaf"><rect x="1188.2" y="3098.6" width="253.9" height="152.1" rx="6"/><text x="1194.8" y="3113.8"><tspan x="1194.8" dy="0">哈哈，功夫不负有心人!在几乎翻遍了所有的</tspan><tspan x="1194.8" dy="15.5">相册后，我终于找到了妈妈的独照。这张照片</tspan><tspan x="1194.8" dy="15.5">还是我拍的呢。那是去年我们去外婆家，我为</tspan><tspan x="1194.8" dy="15.5">了提高自己的摄影水平，缠着妈妈给我做模特</tspan><tspan x="1194.8" dy="15.5">，拍下了这张照片。照片中的妈妈剪着一头短</tspan><tspan x="1194.8" dy="15.5">发，并不柔顺的发间闪现着丝丝白发，蜡黄的</tspan><tspan x="1194.8" dy="15.5">脸上布满了星星点点的雀斑，一道道皱纹爬满</tspan><tspan x="1194.8" dy="15.5">了眼角。一件白色的外套穿在身上显得有些臃</tspan><tspan x="1194.8" dy="15.5">肿。</tspan></text></g>
<g id="R22" class="leaf"><rect x="1188.2" y="3276.3" width="253.9" height="90.0" rx="6"/><text x="1194.8" y="3291.5"><tspan x="1194.8" dy="0">看着看着，我的高兴劲儿竟消失了。如果我拿</tspan><tspan x="1194.8" dy="15.5">这张照片去学校，大家看到妈妈的照片会怎么</tspan><tspan x="1194.8" dy="15.5">想呢?大家肯定都会带着自己妈妈最美的照片</tspan><tspan x="1194.8" dy="15.5">，而我却……不行，我也得带一张妈妈最美的</tspan><tspan x="1194.8" dy="15.5">照片!</tspan></text></g>
<g id="R23" class="leaf"><rect x="1188.2" y="3392.2" width="253.9" height="74.5" rx="6"/><text x="1194.8" y="3407.4"><tspan x="1194.8" dy="0">于是，我立马跑到厨房，对正在做晚饭的妈妈</tspan><tspan x="1194.8" dy="15.5">说：“妈，你有以前的照片吗?”“什么照片?</tspan><tspan x="1194.8" dy="15.5">”妈妈头也没抬地问。“就是你年轻时的照片</tspan><tspan x="1194.8" dy="15.5">啊!”我兴奋地问着。</tspan></text></g>
<g id="R24" class="leaf"><rect x="1188.2" y="3491.6" width="253.9" height="105.5" rx="6"/><text x="1194.8" y="3506.8"><tspan x="1194.8" dy="0">“哦，你拿它干什么?”妈妈终于停下了手里</tspan><tspan x="1194.8" dy="15.5">的活儿，抬起头笑眯眯地看着我，“倒是有一</tspan><tspan x="1194.8" dy="15.5">些以前的照片，你看行不行?”“好嘞!”我跟</tspan><tspan x="1194.8" dy="15.5">着老妈跑进了卧室。只见她小心翼翼地打开了</tspan><tspan x="1194.8" dy="15.5">一个陈旧的小箱子，拿出一沓照片。嘿，都是</tspan><tspan x="1194.8" dy="15.5">老妈年轻时的照片!</tspan></text></g>
<g id="R25" class="leaf"><rect x="1188.2" y="3623.0" width="253.9" height="43.5" rx="6"/><text x="1194.8" y="3638.2"><tspan x="1194.8" dy="0">“这些照片都是没生你和_妹前拍的，你自己</tspan><tspan x="1194.8" dy="15.5">看吧!”妈妈说完，又径直走向厨房。</tspan></text></g>
<g id="R26" class="leaf"><rect x="1188.2" y="3691.8" width="253.9" height="105.5" rx="6"/><text x="1194.8" y="3707.0"><tspan x="1194.8" dy="0">我细细地端详着这些照片，没想到，妈妈年轻</tspan><tspan x="1194.8" dy="15.5">时那么漂亮!瞧，一头乌黑发亮的长发像瀑布</tspan><tspan x="1194.8" dy="15.5">一般垂到肩上，长长的鹅蛋脸上镶嵌着一双有</tspan><tspan x="1194.8" dy="15.5">神的大眼睛，光滑细嫩的皮肤泛着淡淡的红晕</tspan><tspan x="1194.8" dy="15.5">。高挑的身材，合身的衣裙，怎么看怎么漂亮</tspan><tspan x="1194.8" dy="15.5">!</tspan></text></g>
<g id="R27" class="leaf"><rect x="1188.2" y="3823.7" width="253.9" height="43.5" rx="6"/><text x="1194.8" y="3838.9"><tspan x="1194.8" dy="0">我又拿起刚才的那张照片，对比着妈妈截然不</tspan><tspan x="1194.8" dy="15.5">同的两张照片，我沉默了……</tspan></text></g>
<g id="R28" class="leaf"><rect x="1188.2" y="3893.2" width="253.9" height="152.1" rx="6"/><text x="1194.8" y="3908.4"><tspan x="1194.8" dy="0">是啊，年轻时的妈妈是那么的美丽动人。可现</tspan><tspan x="1194.8" dy="15.5">在呢?那些曾经属于她的美丽都跑到哪里去了?</tspan><tspan x="1194.8" dy="15.5">对，都倾注在了我们身上!早早儿起来为我们</tspan><tspan x="1194.8" dy="15.5">做早饭的是她;每天接送我们上下学的是她;我</tspan><tspan x="1194.8" dy="15.5">们生病住院时陪伴照料我们的是她;一天的忙</tspan><tspan x="1194.8" dy="15.5">碌工作后在厨房里操劳的还是她……她的白发</tspan><tspan x="1194.8" dy="15.5">为我们而生，她的皱纹为我们而长，她的青春</tspan><tspan x="1194.8" dy="15.5">为我们而逝!有这样的好妈妈，作为女儿的我</tspan><tspan x="1194.8" dy="15.5">，又有什么理由嫌弃呢?</tspan></text></g>

<g id="watermarks" class="wm">
<text transform="translate(330 330) rotate(-30)" text-anchor="middle" font-size="44">树图 <tspan font-size="30">shutu.cn</tspan></text>
<text transform="translate(330 910) rotate(-30)" text-anchor="middle" font-size="44">树图 <tspan font-size="30">shutu.cn</tspan></text>
<text transform="translate(330 1480) rotate(-30)" text-anchor="middle" font-size="44">树图 <tspan font-size="30">shutu.cn</tspan></text>
<text transform="translate(330 2070) rotate(-30)" text-anchor="middle" font-size="44">树图 <tspan font-size="30">shutu.cn</tspan></text>
<text transform="translate(330 2640) rotate(-30)" text-anchor="middle" font-size="44">树图 <tspan font-size="30">shutu.cn</tspan></text>
<text transform="translate(330 3220) rotate(-30)" text-anchor="middle" font-size="44">树图 <tspan font-size="30">shutu.cn</tspan></text>
<text transform="translate(330 3790) rotate(-30)" text-anchor="middle" font-size="44">树图 <tspan font-size="30">shutu.cn</tspan></text>
<text transform="translate(1135 310) rotate(-30)" text-anchor="middle" font-size="44">树图 <tspan font-size="30">shutu.cn</tspan></text>
<text transform="translate(1135 875) rotate(-30)" text-anchor="middle" font-size="44">树图 <tspan font-size="30">shutu.cn</tspan></text>
<text transform="translate(1135 1470) rotate(-30)" text-anchor="middle" font-size="44">树图 <tspan font-size="30">shutu.cn</tspan></text>
<text transform="translate(1135 2055) rotate(-30)" text-anchor="middle" font-size="44">树图 <tspan font-size="30">shutu.cn</tspan></text>
<text transform="translate(1135 2640) rotate(-30)" text-anchor="middle" font-size="44">树图 <tspan font-size="30">shutu.cn</tspan></text>
<text transform="translate(1135 3225) rotate(-30)" text-anchor="middle" font-size="44">树图 <tspan font-size="30">shutu.cn</tspan></text>
<text transform="translate(1135 3805) rotate(-30)" text-anchor="middle" font-size="44">树图 <tspan font-size="30">shutu.cn</tspan></text>
</g>
</svg>
